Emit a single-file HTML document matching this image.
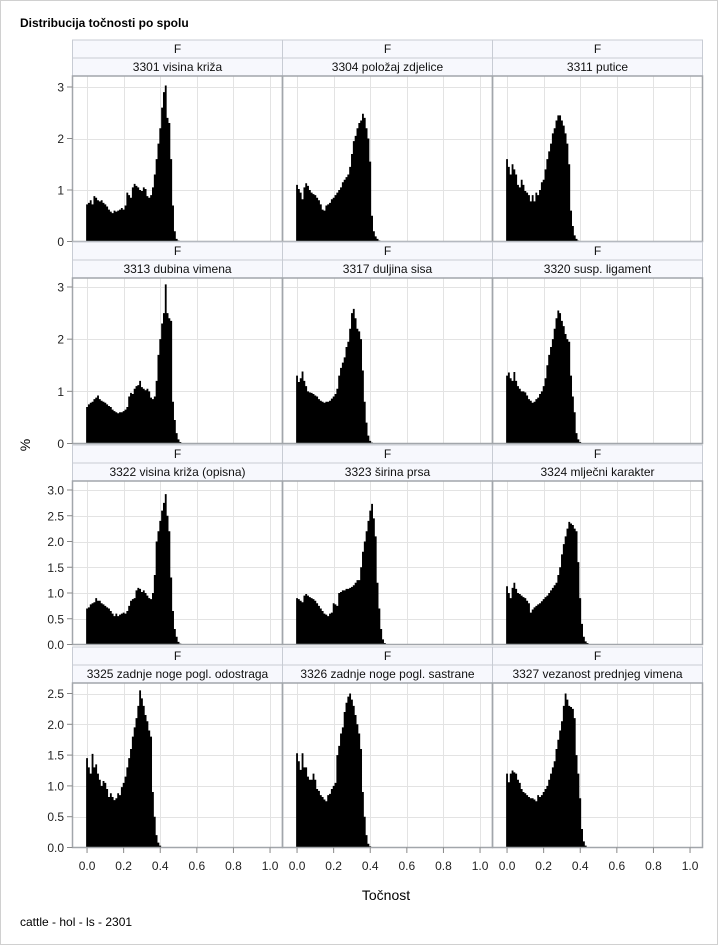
<!DOCTYPE html>
<html><head><meta charset="utf-8"><style>
html,body{margin:0;padding:0;background:#fff}
svg{display:block;font-family:"Liberation Sans",sans-serif}
</style></head><body>
<svg id="chart" width="718" height="945" viewBox="0 0 718 945" xmlns="http://www.w3.org/2000/svg">
<rect x="0.5" y="0.5" width="717" height="944" fill="#fff" stroke="#d0d0d0"/>
<text x="20" y="27" font-size="12" font-weight="bold">Distribucija točnosti po spolu</text>
<text x="386" y="900" font-size="14" text-anchor="middle">Točnost</text>
<text x="0" y="0" font-size="14" text-anchor="middle" transform="translate(30,445) rotate(-90)">%</text>
<text x="20" y="926" font-size="12">cattle - hol - ls - 2301</text>
<g id="panels"></g>
</svg>
<script>
const panelTitles = ["3301 visina križa","3304 položaj zdjelice","3311 putice","3313 dubina vimena","3317 duljina sisa","3320 susp. ligament","3322 visina križa (opisna)","3323 širina prsa","3324 mlječni karakter","3325 zadnje noge pogl. odostraga","3326 zadnje noge pogl. sastrane","3327 vezanost prednjeg vimena"];
const groupLabel = "F";
const binWidth = 0.01;
const p1 = [0.72,0.75,0.8,0.72,0.88,0.85,0.8,0.78,0.8,0.75,0.72,0.68,0.62,0.58,0.55,0.6,0.58,0.6,0.62,0.65,0.62,0.7,0.95,0.9,0.85,1.05,1.12,1.08,1.05,1.0,0.98,1.05,1.02,0.88,0.85,0.9,1.05,1.3,1.6,1.9,2.2,2.6,2.9,3.03,2.4,2.3,1.6,0.7,0.2,0.05,0.02];
const p2 = [1.1,1.02,0.95,0.82,1.05,1.13,1.08,1.0,0.95,0.92,0.9,0.85,0.8,0.72,0.62,0.6,0.7,0.72,0.75,0.82,0.85,0.9,0.95,1.0,1.05,1.15,1.2,1.25,1.3,1.45,1.7,1.95,2.05,2.2,2.3,2.35,2.48,2.4,2.2,2.0,1.55,0.5,0.2,0.1,0.05,0.02];
const p3 = [1.6,1.45,1.3,1.5,1.4,1.3,1.1,1.05,1.2,1.1,0.98,0.95,0.9,0.78,0.9,0.78,0.95,0.9,1.0,1.15,1.2,1.4,1.6,1.75,1.9,2.1,2.2,2.35,2.45,2.45,2.35,2.25,2.1,1.9,1.5,0.6,0.3,0.12,0.05,0.02];
const p4 = [0.7,0.75,0.78,0.8,0.85,0.88,0.92,0.85,0.82,0.8,0.78,0.75,0.72,0.7,0.65,0.62,0.6,0.58,0.6,0.6,0.62,0.65,0.7,0.9,0.97,0.95,1.05,1.1,1.12,1.2,1.08,1.05,1.02,1.05,1.0,0.88,0.85,0.9,1.2,1.7,2.0,2.3,2.5,3.05,2.5,2.4,2.35,0.8,0.45,0.2,0.08,0.03];
const p5 = [1.3,1.18,1.25,1.38,1.2,1.1,1.0,0.98,0.97,0.95,0.92,0.9,0.85,0.82,0.8,0.78,0.8,0.8,0.82,0.86,0.9,0.95,1.05,1.3,1.45,1.55,1.65,1.85,1.95,2.2,2.5,2.58,2.4,2.2,2.15,2.0,1.4,0.8,0.4,0.15,0.05,0.02];
const p6 = [1.3,1.36,1.25,1.2,1.37,1.2,1.1,1.05,1.0,1.0,0.98,0.92,0.85,0.82,0.78,0.8,0.85,0.88,0.95,1.0,1.1,1.25,1.5,1.7,1.85,2.0,2.2,2.4,2.55,2.5,2.35,2.25,2.1,2.0,1.95,1.3,0.9,0.6,0.2,0.08,0.03];
const p7 = [0.7,0.72,0.78,0.8,0.82,0.9,0.85,0.85,0.8,0.78,0.75,0.72,0.7,0.65,0.6,0.55,0.6,0.55,0.58,0.6,0.62,0.6,0.65,0.75,0.85,0.88,0.9,1.05,1.1,1.08,1.02,1.05,1.0,0.95,0.9,0.88,1.0,1.35,2.0,2.2,2.4,2.6,2.75,2.92,2.5,2.2,1.3,0.65,0.3,0.15,0.05,0.02];
const p8 = [0.9,0.88,0.85,0.82,0.95,0.98,0.95,0.92,0.9,0.88,0.85,0.8,0.75,0.7,0.65,0.6,0.58,0.55,0.6,0.62,0.8,0.78,0.75,1.0,1.02,1.05,1.05,1.08,1.08,1.1,1.12,1.15,1.2,1.25,1.25,1.5,1.8,2.0,2.2,2.4,2.6,2.73,2.45,2.1,1.2,0.7,0.3,0.1,0.03];
const p9 = [1.13,1.0,0.9,1.1,1.2,1.08,1.0,0.98,0.95,0.92,0.9,0.85,0.8,0.62,0.68,0.72,0.75,0.78,0.8,0.84,0.88,0.92,0.95,1.0,1.05,1.1,1.15,1.2,1.35,1.5,1.75,1.95,2.1,2.25,2.38,2.35,2.32,2.25,2.2,1.6,0.9,0.4,0.15,0.06,0.03,0.01];
const p10 = [1.45,1.3,1.2,1.52,1.3,1.35,1.2,1.1,1.0,1.08,1.05,0.95,0.82,0.88,0.82,0.77,0.8,0.88,0.85,0.98,1.05,1.15,1.3,1.45,1.6,1.8,1.95,2.1,2.3,2.55,2.42,2.3,2.15,2.05,1.9,1.8,0.9,0.5,0.2,0.08,0.03];
const p11 = [1.53,1.4,1.26,1.53,1.3,1.3,1.15,1.1,1.1,1.2,1.1,0.95,0.92,0.85,0.82,0.78,0.75,0.85,0.87,0.95,1.0,1.05,1.5,1.65,1.85,1.95,2.2,2.35,2.45,2.5,2.4,2.3,2.15,2.0,1.85,1.6,0.9,0.5,0.2,0.06,0.02];
const p12 = [1.2,1.06,1.2,1.25,1.22,1.2,1.1,1.05,0.95,0.9,0.88,0.85,0.82,0.8,0.8,0.78,0.75,0.85,0.82,0.85,0.9,0.95,1.0,1.1,1.2,1.3,1.4,1.6,1.75,1.9,2.05,2.3,2.5,2.4,2.3,2.28,2.25,2.1,1.5,1.2,0.8,0.3,0.1,0.03];
const series = [p1,p2,p3,p4,p5,p6,p7,p8,p9,p10,p11,p12];
const xTicks = [0,0.2,0.4,0.6,0.8,1.0];
const xTickLabels = ["0.0","0.2","0.4","0.6","0.8","1.0"];
const yTicksRow1 = [0,1,2,3];
const yTicksRow2 = [0,1,2,3];
const yTicksRow3 = [0,0.5,1,1.5,2,2.5,3];
const yTicksRow4 = [0,0.5,1,1.5,2,2.5];
const yTicks = [yTicksRow1,yTicksRow2,yTicksRow3,yTicksRow4];
const yTickLabelsRow1 = ["0","1","2","3"];
const yTickLabelsRow3 = ["0.0","0.5","1.0","1.5","2.0","2.5","3.0"];
const yTickLabelsRow4 = ["0.0","0.5","1.0","1.5","2.0","2.5"];
const yTickLabels = [yTickLabelsRow1,yTickLabelsRow1,yTickLabelsRow3,yTickLabelsRow4];

// layout (not data)
const NS = "http://www.w3.org/2000/svg";
const colLeft = [72.5,282.5,492.5], colW = 210;
const rows = [
 {strip:40, label:58, top:76, zero:241.5, refV:3, refY:87},
 {strip:242, label:260, top:278, zero:443.5, refV:3, refY:287},
 {strip:445, label:463, top:481, zero:644.5, refV:3, refY:490},
 {strip:647, label:665, top:683, zero:847.5, refV:2.5, refY:693.5}
];
const xMin = -0.0795, pxPerUnit = 183;
function xScale(col, v){ return colLeft[col] + (v - xMin) * pxPerUnit; }
function yScale(r, v){ const R = rows[r]; return R.zero - v * (R.zero - R.refY) / R.refV; }
function el(tag, attrs, parent){ const e = document.createElementNS(NS, tag); for (const k in attrs) e.setAttribute(k, attrs[k]); parent.appendChild(e); return e; }
const root = document.getElementById('panels');

for (let r = 0; r < 4; r++) {
  const R = rows[r];
  for (let c = 0; c < 3; c++) {
    const i = r*3 + c;
    const g = el('g', {}, root);
    
    
    const x0 = colLeft[c];
    // strips
    const s1 = el('rect', {x:x0, y:R.strip, width:colW, height:R.label-R.strip, fill:'#f7f8fd', stroke:'#c8ccd4', 'stroke-width':1}, g);
    
    
    const t1 = el('text', {x:x0+colW/2, y:R.strip+13, 'font-size':12, 'text-anchor':'middle', fill:'#111'}, g);
    t1.textContent = groupLabel;
    
    
    const s2 = el('rect', {x:x0, y:R.label, width:colW, height:R.top-R.label, fill:'#f7f8fd', stroke:'#c8ccd4', 'stroke-width':1}, g);
    
    
    const t2 = el('text', {x:x0+colW/2, y:R.label+13, 'font-size':12, 'text-anchor':'middle', fill:'#111'}, g);
    t2.textContent = panelTitles[i];
    
    
    // grid
    for (const v of yTicks[r]) {
      if (v === 0) continue;
      const y = Math.round(yScale(r, v)) + 0.5;
      const gl = el('line', {x1:x0, x2:x0+colW, y1:y, y2:y, stroke:'#e3e3e3', 'stroke-width':1}, g);
      
      
    }
    for (const v of xTicks) {
      const x = Math.round(xScale(c, v)) + 0.5;
      const gl = el('line', {x1:x, x2:x, y1:R.top, y2:R.zero, stroke:'#e3e3e3', 'stroke-width':1}, g);
      
      
    }
    // bars
    let d = '';
    const data = series[i];
    for (let k = 0; k < data.length; k++) {
      const xa = xScale(c, k*binWidth - binWidth/2), xb = xScale(c, k*binWidth + binWidth/2);
      const yt = yScale(r, data[k]);
      d += 'M' + xa.toFixed(2) + ' ' + R.zero + 'V' + yt.toFixed(2) + 'H' + xb.toFixed(2) + 'V' + R.zero + 'Z';
    }
    const bars = el('path', {d:d, fill:'#000'}, g);
    
    
    // frame
    const fr = el('rect', {x:x0, y:R.top, width:colW, height:R.zero-R.top, fill:'none', stroke:'#a2a6ab', 'stroke-width':1.5}, g);
    
    
  }
  // y axis ticks
  yTicks[r].forEach((v, j) => {
    const y = yScale(r, v);
    const tk = el('line', {x1:67, x2:72.5, y1:y, y2:y, stroke:'#888', 'stroke-width':1}, root);
    
    
    const lb = el('text', {x:64, y:y+4.5, 'font-size':12, 'text-anchor':'end', fill:'#222'}, root);
    lb.textContent = yTickLabels[r][j];
    
    
  });
}
// x axis
for (let c = 0; c < 3; c++) {
  xTicks.forEach((v, j) => {
    const x = xScale(c, v);
    const tk = el('line', {x1:x, x2:x, y1:847.5, y2:853, stroke:'#888', 'stroke-width':1}, root);
    
    
    const lb = el('text', {x:x, y:870, 'font-size':12, 'text-anchor':'middle', fill:'#222'}, root);
    lb.textContent = xTickLabels[j];
    
    
  });
}
</script>
</body></html>
